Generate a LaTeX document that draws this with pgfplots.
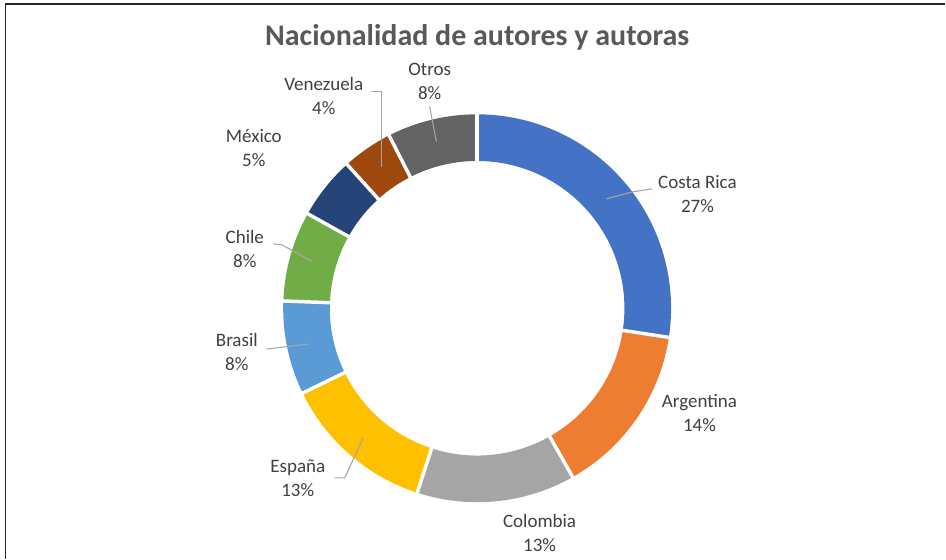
\documentclass[border=0pt]{standalone}
\usepackage{pgfplots}
\pgfplotsset{compat=1.18}
\usepackage{pgfplotstable}
\usepackage{fontspec}
\setmainfont{Carlito}
\definecolor{cCR}{HTML}{4472C4}
\definecolor{cAR}{HTML}{ED7D31}
\definecolor{cCO}{HTML}{A5A5A5}
\definecolor{cES}{HTML}{FFC000}
\definecolor{cBR}{HTML}{5B9BD5}
\definecolor{cCL}{HTML}{70AD47}
\definecolor{cMX}{HTML}{264478}
\definecolor{cVE}{HTML}{9E480E}
\definecolor{cOT}{HTML}{636363}
\definecolor{titlegray}{HTML}{595959}
\definecolor{labelgray}{HTML}{404040}
\definecolor{leadergray}{HTML}{A6A6A6}
\definecolor{framegray}{HTML}{262626}
\tikzset{lab/.style={align=center, text=labelgray, font=\fontsize{14.25}{18}\selectfont}}

% share of each country (percent), clockwise from the top
\pgfplotstableread[col sep=comma]{
name,value,color
Costa Rica,27.4,cCR
Argentina,14.4,cAR
Colombia,13.2,cCO
España,12.8,cES
Brasil,7.8,cBR
Chile,7.5,cCL
México,5.2,cMX
Venezuela,4.2,cVE
Otros,7.5,cOT
}\donut
\pgfplotstablegetrowsof{\donut}
\pgfmathtruncatemacro\nrows{\pgfplotsretval-1}

\def\cx{477.5}
\def\cy{308.5}
\def\rmid{170.75}

\begin{document}
\begin{tikzpicture}
\begin{axis}[
  width=709.5pt, height=419.25pt, scale only axis,
  xmin=0, xmax=946, ymin=0, ymax=559, y dir=reverse,
  hide axis, clip=false,
]
\addplot[draw=none, forget plot] coordinates {(0,0) (946,559)};
% frame (top and left)
\addplot[framegray, line width=1.1pt, forget plot] coordinates {(5.5,559) (5.5,4) (946,4)};

\def\cum{0}
\pgfplotsforeachungrouped \i in {0,...,\nrows}{
  \pgfplotstablegetelem{\i}{value}\of\donut \let\v\pgfplotsretval
  \pgfplotstablegetelem{\i}{color}\of\donut \let\c\pgfplotsretval
  \pgfmathsetmacro\aS{90-3.6*\cum}
  \pgfmathsetmacro\aE{90-3.6*(\cum+\v)}
  \pgfmathsetmacro\cum{\cum+\v}
  \edef\temp{\noexpand\addplot[draw=\c, line width=35pt, line cap=butt, domain=\aS:\aE, samples=90, forget plot]
     ({\cx+\rmid*cos(x)},{\cy-\rmid*sin(x)});}
  \temp
}
\def\cum{0}
\pgfplotsforeachungrouped \i in {0,...,\nrows}{
  \pgfplotstablegetelem{\i}{value}\of\donut \let\v\pgfplotsretval
  \pgfmathsetmacro\aS{90-3.6*\cum}
  \pgfmathsetmacro\cum{\cum+\v}
  \pgfmathsetmacro\xa{\cx+140*cos(\aS)}
  \pgfmathsetmacro\ya{\cy-140*sin(\aS)}
  \pgfmathsetmacro\xb{\cx+202*cos(\aS)}
  \pgfmathsetmacro\yb{\cy-202*sin(\aS)}
  \edef\temp{\noexpand\addplot[white, line width=2.6pt, forget plot] coordinates {(\xa,\ya) (\xb,\yb)};}
  \temp
}

% leader lines
\addplot[leadergray, line width=0.8pt, forget plot] coordinates {(607,199) (633,192) (653,189)};
\addplot[leadergray, line width=0.8pt, forget plot] coordinates {(335,478.3) (345,478.3) (363.3,438.3)};
\addplot[leadergray, line width=0.8pt, forget plot] coordinates {(266.7,349.3) (309.3,344.3)};
\addplot[leadergray, line width=0.8pt, forget plot] coordinates {(273,244) (282,245) (313,262)};
\addplot[leadergray, line width=0.8pt, forget plot] coordinates {(371.7,91.7) (381.7,91.7) (381.7,166.7)};
\addplot[leadergray, line width=0.8pt, forget plot] coordinates {(430,106.7) (436.7,141.7)};

\node[anchor=base, text=titlegray, font=\fontsize{22.5}{27}\selectfont\bfseries] at (axis cs:477.5,46) {Nacionalidad de autores y autoras};

\node[lab] at (axis cs:698,194) {Costa Rica\\27\%};
\node[lab] at (axis cs:700,413) {Argentina\\14\%};
\node[lab] at (axis cs:540,533) {Colombia\\13\%};
\node[lab] at (axis cs:298,479) {España\\13\%};
\node[lab] at (axis cs:237,352) {Brasil\\8\%};
\node[lab] at (axis cs:245,249) {Chile\\8\%};
\node[lab] at (axis cs:254,148) {México\\5\%};
\node[lab] at (axis cs:324,96) {Venezuela\\4\%};
\node[lab] at (axis cs:430,81) {Otros\\8\%};
\end{axis}
\end{tikzpicture}
\end{document}
